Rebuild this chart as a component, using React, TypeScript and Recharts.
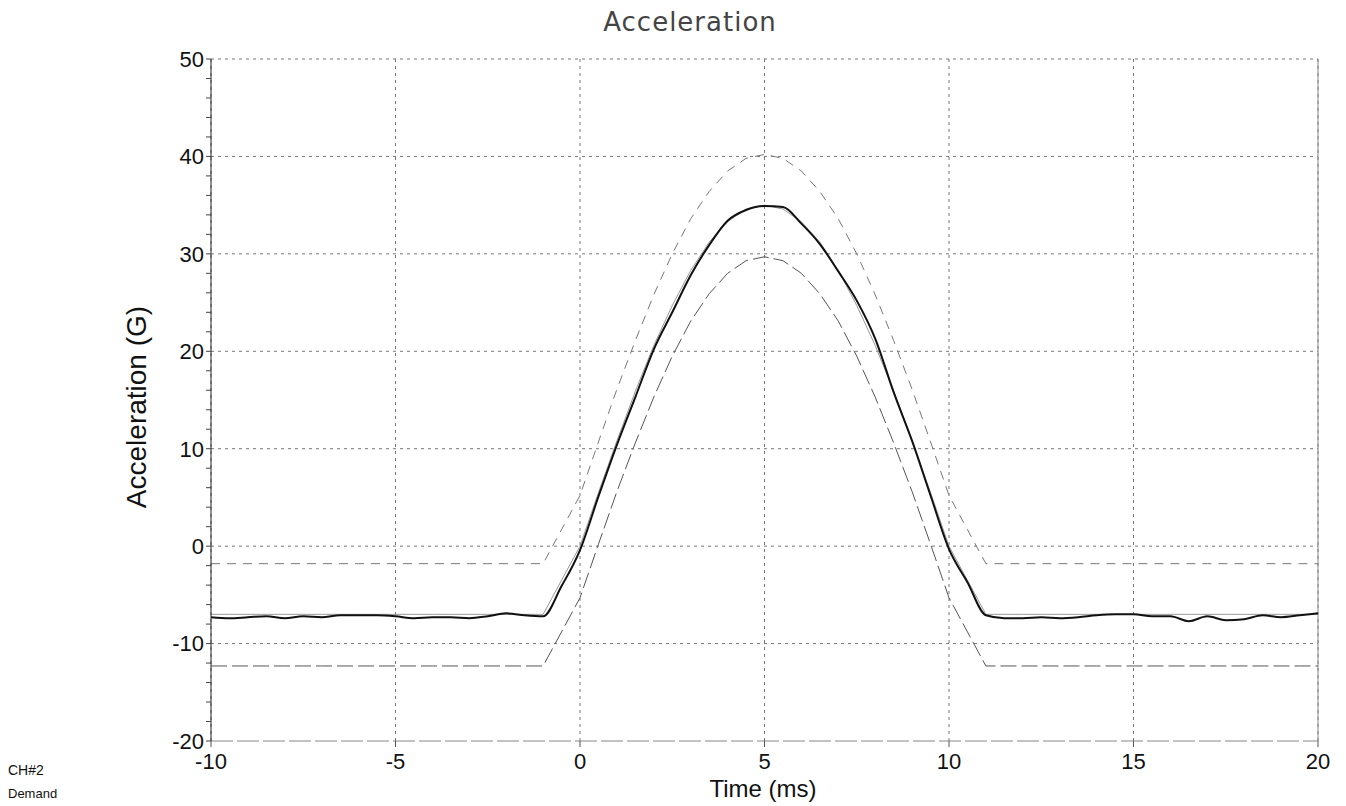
import React from 'react';
import { LineChart, Line, XAxis, YAxis, CartesianGrid, ReferenceLine } from 'recharts';

// time axis (ms)
const times = [
  -10, -9.5, -9, -8.5, -8, -7.5, -7, -6.5, -6, -5.5, -5, -4.5, -4, -3.5, -3, -2.5, -2, -1.5, -1, -0.5,
  0, 0.5, 1, 1.5, 2, 2.5, 3, 3.5, 4, 4.5, 5, 5.5, 6, 6.5, 7, 7.5, 8, 8.5, 9, 9.5,
  10, 10.5, 11, 11.5, 12, 12.5, 13, 13.5, 14, 14.5, 15, 15.5, 16, 16.5, 17, 17.5, 18, 18.5, 19, 19.5, 20,
];

// CH#2 measured response (G)
const measured = [
  -7.3, -7.4, -7.3, -7.2, -7.4, -7.2, -7.3, -7.1, -7.1, -7.1, -7.2, -7.4, -7.3, -7.3, -7.4, -7.2, -6.9, -7.1, -7.2, -4.1,
  -0.4, 5.1, 10.4, 15.3, 20.2, 24.0, 27.8, 30.9, 33.4, 34.5, 34.9, 34.8, 33.1, 31.0, 28.2, 25.2, 21.3, 15.8, 10.8, 5.2,
  -0.3, -3.7, -7.1, -7.4, -7.4, -7.3, -7.4, -7.3, -7.1, -7.0, -7.0, -7.2, -7.2, -7.7, -7.2, -7.6, -7.5, -7.1, -7.3, -7.1, -6.9,
];

// demand pulse (G)
const demand = [
  -7, -7, -7, -7, -7, -7, -7, -7, -7, -7, -7, -7, -7, -7, -7, -7, -7, -7, -7, -3.5,
  0, 5.5, 10.8, 15.9, 20.6, 24.7, 28.3, 31.2, 33.3, 34.6, 35.0, 34.6, 33.3, 31.2, 28.3, 24.7, 20.6, 15.9, 10.8, 5.5,
  0, -3.5, -7, -7, -7, -7, -7, -7, -7, -7, -7, -7, -7, -7, -7, -7, -7, -7, -7, -7, -7,
];

// upper tolerance (G)
const upper = [
  -1.8, -1.8, -1.8, -1.8, -1.8, -1.8, -1.8, -1.8, -1.8, -1.8, -1.8, -1.8, -1.8, -1.8, -1.8, -1.8, -1.8, -1.8, -1.8, 1.7,
  5.2, 10.7, 16.1, 21.1, 25.8, 30.0, 33.6, 36.4, 38.5, 39.8, 40.2, 39.8, 38.5, 36.4, 33.6, 30.0, 25.8, 21.1, 16.1, 10.7,
  5.2, 1.7, -1.8, -1.8, -1.8, -1.8, -1.8, -1.8, -1.8, -1.8, -1.8, -1.8, -1.8, -1.8, -1.8, -1.8, -1.8, -1.8, -1.8, -1.8, -1.8,
];

// lower tolerance (G)
const lower = [
  -12.3, -12.3, -12.3, -12.3, -12.3, -12.3, -12.3, -12.3, -12.3, -12.3, -12.3, -12.3, -12.3, -12.3, -12.3, -12.3, -12.3, -12.3, -12.3, -8.8,
  -5.3, 0.2, 5.6, 10.6, 15.3, 19.5, 23.1, 25.9, 28.0, 29.3, 29.7, 29.3, 28.0, 25.9, 23.1, 19.5, 15.3, 10.6, 5.6, 0.2,
  -5.3, -8.8, -12.3, -12.3, -12.3, -12.3, -12.3, -12.3, -12.3, -12.3, -12.3, -12.3, -12.3, -12.3, -12.3, -12.3, -12.3, -12.3, -12.3, -12.3, -12.3,
];

const xTicks = [-10, -5, 0, 5, 10, 15, 20];
const yTicks = [-20, -18, -16, -14, -12, -10, -8, -6, -4, -2, 0, 2, 4, 6, 8, 10, 12, 14, 16, 18, 20, 22, 24, 26, 28, 30, 32, 34, 36, 38, 40, 42, 44, 46, 48, 50];
const gridG = [-10, 0, 10, 20, 30, 40, 50];

const rows = times.map((t, i) => ({
  t,
  measured: measured[i],
  demand: demand[i],
  upper: upper[i],
  lower: lower[i],
}));

const font = '"Liberation Sans", Arial, sans-serif';

export default function App() {
  return (
    <div style={{ position: 'absolute', left: 0, top: 0, width: 1346, height: 806, background: '#fff', fontFamily: font }}>
      <div style={{ position: 'absolute', left: 690, top: 9, transform: 'translateX(-50%)', fontFamily: '"DejaVu Sans", sans-serif', fontSize: 26, lineHeight: 1, letterSpacing: 1, color: '#444', whiteSpace: 'nowrap' }}>
        Acceleration
      </div>
      <LineChart width={1346} height={806} data={rows} margin={{ top: 59, right: 28, left: 151, bottom: 35 }}>
        <CartesianGrid stroke="#777" strokeDasharray="3 4" horizontalValues={gridG} verticalValues={xTicks} />
        <XAxis
          dataKey="t"
          type="number"
          domain={[-10, 20]}
          ticks={xTicks}
          interval={0}
          height={30}
          tickSize={6}
          tickMargin={6}
          tick={{ fontSize: 22, fill: '#111', fontFamily: font }}
          axisLine={{ stroke: '#888', strokeDasharray: '22 4' }}
          tickLine={{ stroke: '#555' }}
        />
        <YAxis
          type="number"
          domain={[-20, 50]}
          ticks={yTicks}
          interval={0}
          width={60}
          tickSize={5}
          tickMargin={2}
          tickFormatter={(v: number) => (v % 10 === 0 ? String(v) : '')}
          tick={{ fontSize: 22, fill: '#111', fontFamily: font }}
          axisLine={{ stroke: '#222' }}
          tickLine={{ stroke: '#444' }}
        />
        <ReferenceLine x={20} stroke="#888" />
        <Line type="linear" dataKey="demand" stroke="#999" strokeWidth={1} dot={false} isAnimationActive={false} />
        <Line type="linear" dataKey="upper" stroke="#777" strokeWidth={1} strokeDasharray="9 7" dot={false} isAnimationActive={false} />
        <Line type="linear" dataKey="lower" stroke="#555" strokeWidth={1} strokeDasharray="16 5" dot={false} isAnimationActive={false} />
        <Line type="monotone" dataKey="measured" stroke="#111" strokeWidth={2} dot={false} isAnimationActive={false} />
      </LineChart>
      <div style={{ position: 'absolute', left: 137, top: 407, transform: 'translate(-50%, -50%) rotate(-90deg)', fontSize: 28, lineHeight: 1, color: '#111', whiteSpace: 'nowrap' }}>
        Acceleration (G)
      </div>
      <div style={{ position: 'absolute', left: 763, top: 777, transform: 'translateX(-50%)', fontSize: 24, lineHeight: 1, color: '#111', whiteSpace: 'nowrap' }}>
        Time (ms)
      </div>
      <div style={{ position: 'absolute', left: 8, top: 763, fontSize: 14, lineHeight: 1, color: '#111' }}>CH#2</div>
      <div style={{ position: 'absolute', left: 8, top: 787, fontSize: 13, lineHeight: 1, color: '#111' }}>Demand</div>
    </div>
  );
}
